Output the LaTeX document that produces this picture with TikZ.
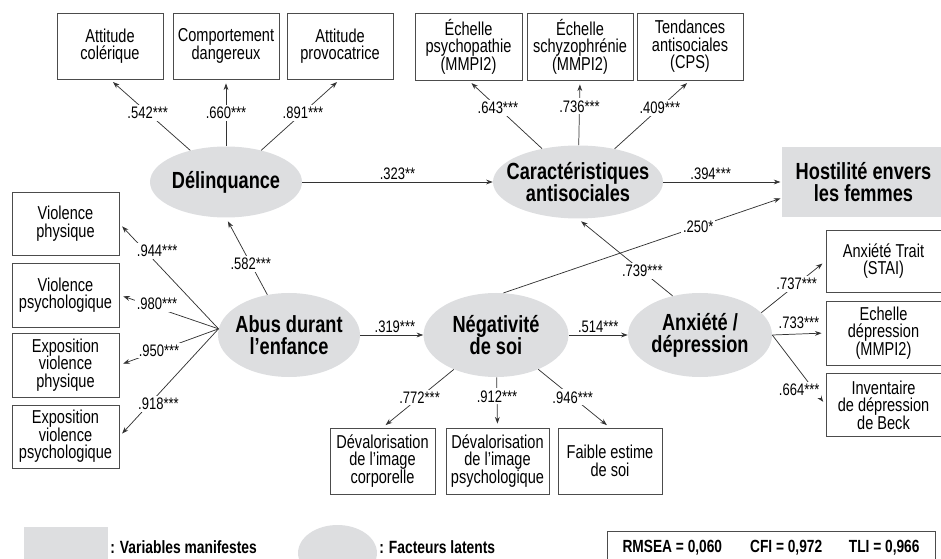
\documentclass[tikz,border=0pt]{standalone}
\usepackage{fontspec}
\setmainfont{Liberation Sans}[FakeStretch=0.78]
\usetikzlibrary{arrows.meta,shapes.geometric}
\definecolor{latentgray}{RGB}{221,222,224}
\tikzset{
  manif/.style={draw=black!70, line width=0.6pt, minimum width=79.5pt, minimum height=49.5pt,
    align=center, inner sep=1pt, font=\fontsize{14}{13.2}\selectfont},
  latent/.style={ellipse, fill=latentgray, inner sep=0pt},
  lattext/.style={font=\bfseries\fontsize{17.5}{16.5}\selectfont, align=center, inner sep=0pt},
  coef/.style={font=\fontsize{12.5}{13}\selectfont, fill=white, inner sep=1.5pt},
  link/.style={-{Stealth[length=5pt,width=3.6pt]}, line width=0.55pt, draw=black!80, shorten >=3pt},
  legtext/.style={font=\bfseries\fontsize{13.3}{13.3}\selectfont, inner sep=0pt, anchor=west},
}
\begin{document}
\begin{tikzpicture}[x=0.75pt, y=-0.75pt]
  \useasboundingbox (0,0) rectangle (941,559);
  % indicateurs du haut
  \node[manif] (attcol) at (110,46) {Attitude\\colérique};
  \node[manif] (compdang) at (226,46) {Comportement\\dangereux};
  \node[manif] (attprov) at (340,46) {Attitude\\provocatrice};
  \node[manif, minimum width=80.25pt, minimum height=50.25pt] (psycho) at (468.5,46.5) {Échelle\\psychopathie\\(MMPI2)};
  \node[manif, minimum height=50.25pt] (schizo) at (580,46.5) {Échelle\\schyzophrénie\\(MMPI2)};
  \node[manif, minimum height=50.25pt] (tendance) at (690,46.5) {Tendances\\antisociales\\(CPS)};
  % facteurs latents
  \node[latent, minimum width=114pt, minimum height=53.25pt, label={[lattext]center:Délinquance}] (delinq) at (226,182) {};
  \node[latent, minimum width=127.5pt, minimum height=54.75pt, label={[lattext]center:{Caractéristiques\\antisociales}}] (carac) at (578,182) {};
  \node[latent, minimum width=106.5pt, minimum height=63pt, label={[lattext]center:{Abus durant\\l’enfance}}] (abus) at (289,335) {};
  \node[latent, minimum width=108.75pt, minimum height=63pt, label={[lattext]center:{Négativité\\de soi}}] (neg) at (496,335) {};
  \node[latent, minimum width=108pt, minimum height=63pt, label={[lattext]center:{Anxiété /\\dépression}}] (anx) at (700,335) {};
  \node[fill=latentgray, minimum width=122.25pt, minimum height=52.5pt, align=center, font=\bfseries\fontsize{17.5}{16.5}\selectfont] (hostil) at (863.5,182) {Hostilité envers\\les femmes};
  % indicateurs de gauche
  \node[manif, minimum width=80.25pt, minimum height=47.25pt] (vphys) at (65.5,223.5) {Violence\\physique};
  \node[manif, minimum width=80.25pt, minimum height=48pt] (vpsy) at (65.5,295) {Violence\\psychologique};
  \node[manif, minimum width=80.25pt, minimum height=48pt] (expphys) at (65.5,365) {Exposition\\violence\\physique};
  \node[manif, minimum width=80.25pt, minimum height=47.25pt] (exppsy) at (65.5,436.5) {Exposition\\violence\\psychologique};
  % indicateurs de droite
  \node[manif, minimum width=86.25pt, minimum height=46.5pt] (stai) at (883.5,261) {Anxiété Trait\\(STAI)};
  \node[manif, minimum width=86.25pt, minimum height=48pt] (mmpidep) at (883.5,333) {Echelle\\dépression\\(MMPI2)};
  \node[manif, minimum width=86.25pt, minimum height=47.25pt] (beck) at (883.5,405) {Inventaire\\de dépression\\de Beck};
  % indicateurs du bas
  \node[manif, minimum width=78.75pt] (devcorp) at (382.5,461) {Dévalorisation\\de l’image\\corporelle};
  \node[manif, minimum width=77.25pt] (devpsy) at (497.5,461) {Dévalorisation\\de l’image\\psychologique};
  \node[manif, minimum width=78pt] (faible) at (610,461) {Faible estime\\de soi};
  % saturations
  \draw[link] (delinq) -- node[coef, pos=.53] {.542***} (attcol.south);
  \draw[link] (delinq) -- node[coef, pos=.5] {.660***} (compdang.south);
  \draw[link] (delinq) -- node[coef, pos=.53] {.891***} (attprov.south);
  \draw[link] (carac) -- node[coef, pos=.6] {.643***} (psycho.south);
  \draw[link] (carac) -- node[coef, pos=.6] {.736***} (schizo.south);
  \draw[link] (carac) -- node[coef, pos=.6] {.409***} (tendance.south);
  \draw[link] (abus.175) -- node[coef, pos=.74, xshift=9pt] {.944***} (vphys.east);
  \draw[link] (abus.175) -- node[coef, pos=.62, yshift=3pt] {.980***} (vpsy.east);
  \draw[link] (abus.175) -- node[coef, pos=.6] {.950***} (expphys.east);
  \draw[link] (abus.175) -- node[coef, pos=.7, xshift=7pt] {.918***} (exppsy.east);
  \draw[link] (neg) -- node[coef, pos=.48] {.772***} (devcorp.north);
  \draw[link] (neg) -- node[coef, pos=.38] {.912***} (devpsy.north);
  \draw[link] (neg) -- node[coef, pos=.48] {.946***} (faible.north);
  \draw[link] (anx.east) -- node[coef, above, fill=none, yshift=2pt] {.733***} (mmpidep.west);
  \draw[link] (anx.20) -- node[coef, pos=.55] {.737***} (stai.west);
  \draw[link] (anx.east) -- node[coef, pos=.78, xshift=-11pt] {.664***} (beck.west);
  % relations structurelles
  \draw[link] (abus) -- node[coef, pos=.4] {.582***} (delinq.south);
  \draw[link, shorten >=0pt] (abus) -- node[coef, above, fill=none, pos=.55] {.319***} (neg);
  \draw[link, shorten >=0pt] (neg) -- node[coef, above, fill=none] {.514***} (anx);
  \draw[link, shorten >=0pt] (delinq) -- node[coef, above, fill=none] {.323**} (carac);
  \draw[link, shorten >=1pt] (carac) -- node[coef, above, fill=none, pos=.4] {.394***} (hostil);
  \draw[link] (anx.125) -- node[coef, pos=.32] {.739***} (carac.south);
  \draw[link, shorten >=1pt] (neg.80) -- node[coef, pos=.7] {.250*} ([yshift=-12pt]hostil.west);
  % legende
  \fill[latentgray] (24,527) rectangle (108,567);
  \node[legtext] (legmanif) at (110,547) {: Variables manifestes};
  \fill[latentgray] (337.5,553) ellipse (29.6pt and 21pt);
  \node[legtext] (leglat) at (379,547) {: Facteurs latents};
  \node[draw=black!70, line width=0.6pt, minimum width=246pt, minimum height=25.5pt, font=\bfseries\fontsize{13.2}{13.2}\selectfont] (fitstats) at (771,548)
    {RMSEA = 0,060\hspace{21pt}CFI = 0,972\hspace{20pt}TLI = 0,966};
\end{tikzpicture}
\end{document}
